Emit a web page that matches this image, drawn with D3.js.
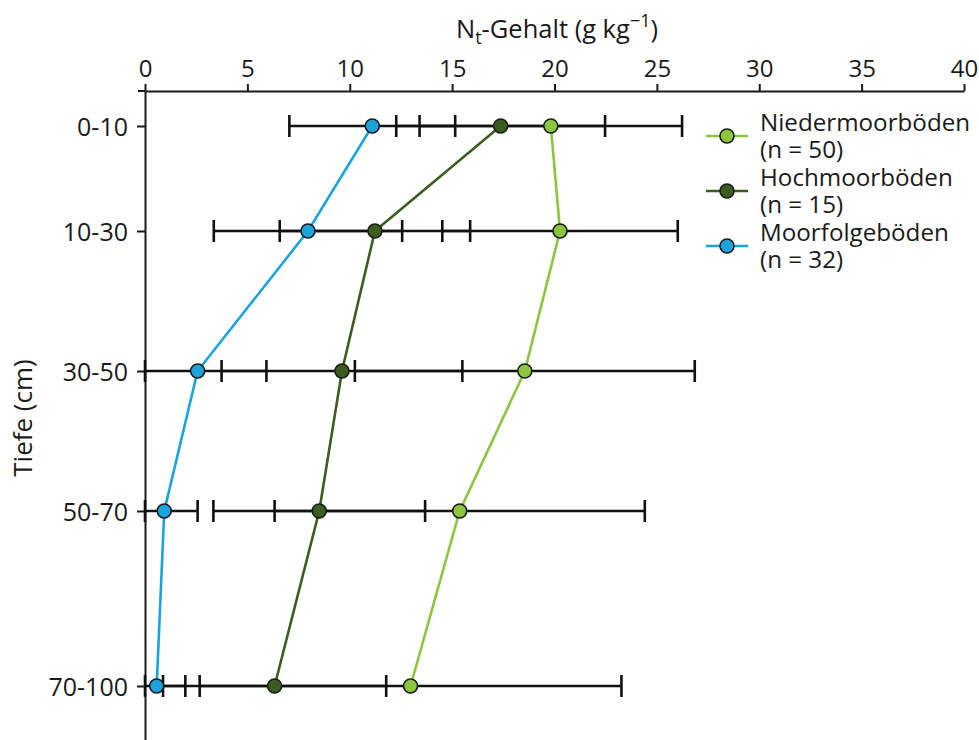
<!DOCTYPE html>
<html>
<head>
<meta charset="utf-8">
<script src="https://cdn.jsdelivr.net/npm/d3@7"></script>
<style>
  html, body { margin: 0; padding: 0; background: #fff; }
  svg { display: block; }
  text { font-family: "Open Sans", "Noto Sans", sans-serif; fill: #1a1a1a; }
</style>
</head>
<body>
<svg id="chart" width="979" height="740"></svg>
<script>
// ---- data ----
const depthLabels = ["0-10", "10-30", "30-50", "50-70", "70-100"];
const depthMid = [5, 20, 40, 60, 85];
const xTicks = [0, 5, 10, 15, 20, 25, 30, 35, 40];

const niederMean = [19.82, 20.27, 18.55, 15.37, 12.97];
const niederSD   = [6.41, 5.75, 8.30, 9.04, 10.30];
const hochMean   = [17.37, 11.23, 9.62, 8.51, 6.33];
const hochSD     = [5.10, 4.65, 5.88, 5.17, 5.45];
const moorMean   = [11.10, 7.96, 2.57, 0.94, 0.57];
const moorSD     = [4.05, 4.60, 3.36, 1.63, 1.40];

const seriesNames = ["Niedermoorböden", "Hochmoorböden", "Moorfolgeböden"];
const seriesN = ["(n = 50)", "(n = 15)", "(n = 32)"];
const seriesColors = ["#8cc63f", "#3b5e1f", "#1ca3dd"];

const series = [
  { name: seriesNames[0], n: seriesN[0], color: seriesColors[0], mean: niederMean, sd: niederSD },
  { name: seriesNames[1], n: seriesN[1], color: seriesColors[1], mean: hochMean, sd: hochSD },
  { name: seriesNames[2], n: seriesN[2], color: seriesColors[2], mean: moorMean, sd: moorSD }
];

// ---- layout ----
const svg = d3.select("#chart");
const x = d3.scaleLinear().domain([0, 40]).range([145, 964]);
const y = d3.scaleLinear().domain([0, 649 / 7]).range([91, 740]);

// top x axis
const xAxis = d3.axisTop(x).tickValues(xTicks).tickSize(7).tickSizeOuter(0).tickPadding(7);
const gx = svg.append("g").attr("transform", `translate(0,${y(0)})`).call(xAxis);
gx.select(".domain").attr("stroke", "#1a1a1a").attr("stroke-width", 2);
gx.selectAll(".tick line").attr("stroke", "#1a1a1a").attr("stroke-width", 2);
gx.selectAll(".tick text").attr("font-size", 24).attr("fill", "#1a1a1a");
// small extension of the x axis line to the left
svg.append("line").attr("x1", x(0) - 7).attr("x2", x(0)).attr("y1", y(0)).attr("y2", y(0))
  .attr("stroke", "#1a1a1a").attr("stroke-width", 2);

// left y axis
const yAxis = d3.axisLeft(y).tickValues(depthMid).tickSize(8).tickSizeOuter(0).tickPadding(9)
  .tickFormat((d, i) => depthLabels[i]);
const gy = svg.append("g").attr("transform", `translate(${x(0)},0)`).call(yAxis);
gy.select(".domain").attr("stroke", "#1a1a1a").attr("stroke-width", 2);
gy.selectAll(".tick line").attr("stroke", "#1a1a1a").attr("stroke-width", 2);
gy.selectAll(".tick text").attr("font-size", 25).attr("fill", "#1a1a1a").attr("dy", "0.36em");

// axis titles
const title = svg.append("text").attr("x", 557).attr("y", 38).attr("text-anchor", "middle").attr("font-size", 25.5);
title.append("tspan").text("N");
title.append("tspan").attr("font-size", 18).attr("dy", 6).text("t");
title.append("tspan").attr("dy", -6).text("-Gehalt (g kg");
title.append("tspan").attr("font-size", 18).attr("dy", -11).text("\u22121");
title.append("tspan").attr("dy", 11).text(")");

svg.append("text")
  .attr("transform", `translate(32,418) rotate(-90)`)
  .attr("text-anchor", "middle").attr("font-size", 26)
  .text("Tiefe (cm)");

// error bars
const capH = 11;
const ebG = svg.append("g");
series.forEach(s => {
  s.mean.forEach((m, i) => {
    const lo = Math.max(0, m - s.sd[i]);
    const hi = m + s.sd[i];
    const yy = y(depthMid[i]);
    ebG.append("line").attr("x1", x(lo)).attr("x2", x(hi)).attr("y1", yy).attr("y2", yy)
      .attr("stroke", "#111").attr("stroke-width", 2.6);
    [lo, hi].forEach(v => {
      ebG.append("line").attr("x1", x(v)).attr("x2", x(v)).attr("y1", yy - capH).attr("y2", yy + capH)
        .attr("stroke", "#111").attr("stroke-width", 2.6);
    });
  });
});

// lines
const line = d3.line().x(d => x(d[0])).y(d => y(d[1]));
series.forEach(s => {
  svg.append("path")
    .datum(s.mean.map((m, i) => [m, depthMid[i]]))
    .attr("d", line).attr("fill", "none").attr("stroke", s.color).attr("stroke-width", 2.6);
});

// markers
series.forEach(s => {
  svg.append("g").selectAll("circle")
    .data(s.mean.map((m, i) => [m, depthMid[i]]))
    .join("circle")
    .attr("cx", d => x(d[0])).attr("cy", d => y(d[1])).attr("r", 7)
    .attr("fill", s.color).attr("stroke", "#1a1a1a").attr("stroke-width", 1.6);
});

// legend
const legY = [136, 191, 246];
const lg = svg.append("g");
series.forEach((s, i) => {
  const cy = legY[i];
  lg.append("line").attr("x1", 706).attr("x2", 748).attr("y1", cy).attr("y2", cy)
    .attr("stroke", s.color).attr("stroke-width", 2.6);
  lg.append("circle").attr("cx", 727).attr("cy", cy).attr("r", 7)
    .attr("fill", s.color).attr("stroke", "#1a1a1a").attr("stroke-width", 1.6);
  const t = lg.append("text").attr("x", 760).attr("y", cy - 5).attr("font-size", 24.2);
  t.append("tspan").attr("x", 760).text(s.name);
  t.append("tspan").attr("x", 760).attr("dy", 27).text(s.n);
});
</script>
</body>
</html>
